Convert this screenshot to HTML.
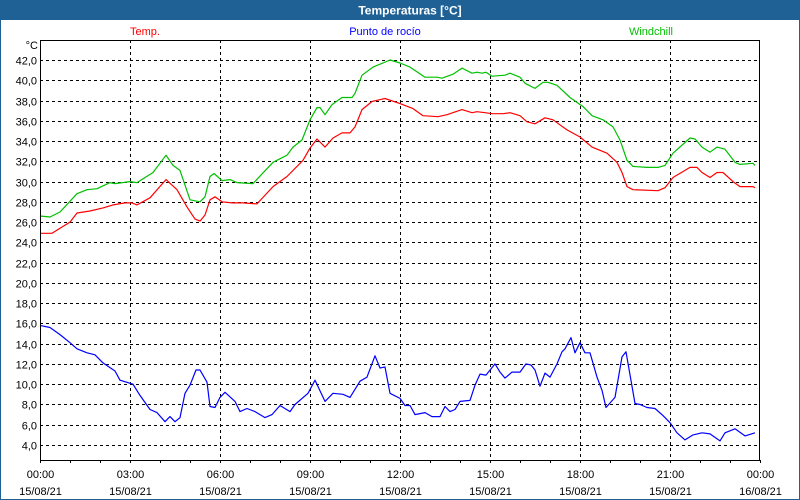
<!DOCTYPE html>
<html><head><meta charset="utf-8"><style>
body{margin:0;background:#fff;}
svg{display:block;font-family:"Liberation Sans",sans-serif;}
</style></head><body>
<svg id="chart" width="800" height="500">
<rect x="0" y="0" width="800" height="500" fill="#fff"/>
<rect x="0" y="0" width="800" height="20" fill="#1f6195"/>
<rect x="0.5" y="0.5" width="799" height="499" fill="none" stroke="#1f6195"/>
<text x="410" y="14.5" fill="#fff" font-size="12" font-weight="bold" text-anchor="middle">Temperaturas [°C]</text>
<text x="145" y="35" fill="#ff0000" font-size="11" text-anchor="middle">Temp.</text>
<text x="385" y="35" fill="#0000ff" font-size="11" text-anchor="middle">Punto de rocío</text>
<text x="651" y="35" fill="#00c000" font-size="11" text-anchor="middle">Windchill</text>
<text x="38" y="49" fill="#000" font-size="11" text-anchor="end">°C</text>
<g id="grid"></g><g id="series"></g><g id="axes"></g>
</svg>
<script>
const yTicks=[4,6,8,10,12,14,16,18,20,22,24,26,28,30,32,34,36,38,40,42];
const xTickLabels=["00:00","03:00","06:00","09:00","12:00","15:00","18:00","21:00","00:00"];
const xDateLabels=["15/08/21","15/08/21","15/08/21","15/08/21","15/08/21","15/08/21","15/08/21","15/08/21","16/08/21"];
const tempTimes=[0,24,40,60,74,100,126,146,170,184,194,220,252,274,294,310,320,330,340,350,364,384,396,406,434,466,494,526,540,554,570,586,604,620,630,644,664,690,720,746,766,796,814,844,864,874,890,904,926,940,960,974,990,1010,1026,1054,1080,1104,1134,1154,1164,1174,1186,1236,1250,1266,1300,1314,1324,1340,1354,1366,1386,1400,1426,1430];
const tempValues=[24.9,24.9,25.4,26.0,26.9,27.1,27.4,27.7,27.9,27.9,27.7,28.4,30.2,29.2,27.5,26.3,26.1,26.7,28.2,28.5,28.0,27.9,27.9,27.9,27.8,29.5,30.5,32.1,33.3,34.2,33.4,34.3,34.8,34.8,35.4,37.1,37.9,38.2,37.7,37.2,36.5,36.4,36.6,37.1,36.8,36.9,36.8,36.7,36.7,36.8,36.5,35.9,35.7,36.3,36.1,35.1,34.4,33.4,32.8,31.9,30.9,29.5,29.2,29.1,29.4,30.4,31.4,31.4,30.9,30.4,30.9,30.9,30.0,29.5,29.5,29.4];
const chillTimes=[0,20,40,74,94,114,140,150,180,194,226,252,266,280,300,320,330,340,348,364,380,394,426,466,494,506,524,540,554,560,570,584,604,624,630,644,666,686,700,720,740,770,794,804,826,844,864,874,884,892,904,930,940,960,970,990,1006,1016,1034,1060,1086,1104,1126,1146,1160,1174,1186,1214,1236,1250,1266,1300,1310,1324,1340,1354,1370,1390,1400,1426,1430];
const chillValues=[26.6,26.5,27.0,28.8,29.2,29.3,29.9,29.8,30.0,29.9,30.9,32.6,31.6,31.1,28.2,28.0,28.5,30.5,30.8,30.1,30.2,29.9,29.8,31.9,32.6,33.4,34.1,36.1,37.3,37.3,36.6,37.6,38.3,38.3,38.7,40.5,41.3,41.7,42.0,41.7,41.3,40.3,40.3,40.2,40.6,41.2,40.7,40.8,40.7,40.8,40.4,40.5,40.7,40.3,39.7,39.2,39.8,39.8,39.5,38.3,37.4,36.5,36.1,35.4,34.1,32.1,31.5,31.4,31.4,31.6,32.8,34.3,34.2,33.4,32.9,33.4,33.2,31.9,31.7,31.8,31.6];
const dewTimes=[0,20,40,60,74,94,110,126,150,160,186,200,220,234,250,260,270,280,290,300,312,320,334,340,350,360,370,390,400,414,430,450,464,480,500,510,536,550,570,586,606,620,640,654,670,680,690,700,720,730,740,750,770,784,800,810,820,830,840,860,870,880,892,910,920,930,944,960,972,982,990,1000,1010,1020,1034,1044,1050,1062,1070,1080,1090,1100,1114,1124,1132,1150,1164,1172,1190,1200,1214,1230,1246,1260,1274,1290,1306,1324,1340,1360,1370,1390,1410,1430];
const dewValues=[15.8,15.6,14.9,14.1,13.5,13.1,12.9,12.1,11.3,10.4,10.0,8.9,7.5,7.2,6.3,6.8,6.3,6.7,9.1,9.9,11.4,11.4,10.2,7.8,7.7,8.7,9.2,8.3,7.3,7.6,7.3,6.7,7.0,7.9,7.3,8.0,9.1,10.4,8.3,9.1,9.0,8.7,10.3,10.7,12.8,11.6,11.7,9.1,8.6,7.9,7.9,7.0,7.2,6.8,6.8,7.8,7.3,7.5,8.3,8.4,9.9,11.0,10.9,12.0,11.2,10.6,11.2,11.2,12.0,11.9,11.4,9.8,11.1,10.7,12.0,13.2,13.5,14.6,13.1,14.1,13.1,13.1,10.7,9.4,7.7,8.7,12.7,13.2,8.1,8.0,7.7,7.6,6.9,6.2,5.2,4.5,5.0,5.2,5.1,4.4,5.2,5.6,4.9,5.2];

const L=40,R=760,T=40,B=460;
function xs(min){return L+(min/1440)*(R-L);}
function ys(v){return 445-(v-4)*(385/38);}
const NS="http://www.w3.org/2000/svg";
function mk(tag,attrs,parent){const e=document.createElementNS(NS,tag);for(const k in attrs)e.setAttribute(k,attrs[k]);parent.appendChild(e);return e;}
const grid=document.getElementById('grid'),axes=document.getElementById('axes'),series=document.getElementById('series');
yTicks.forEach(v=>{
  const y=Math.round(ys(v))+0.5;
  const g=mk('line',{x1:L,x2:R,y1:y,y2:y,stroke:'#000','stroke-dasharray':'3,3'},grid);
  
  
  const t=mk('text',{x:37,y:y+4,'font-size':11,'text-anchor':'end',fill:'#000'},axes);
  t.textContent=v.toFixed(1).replace('.',',');
  
  
});
xTickLabels.forEach((lab,i)=>{
  const x=Math.round(xs(i*180))+0.5;
  if(i>0&&i<xTickLabels.length-1){
    const g=mk('line',{x1:x,x2:x,y1:T,y2:B,stroke:'#000','stroke-dasharray':'3,3'},grid);
    
    
  }
  const t=mk('text',{x:x,y:478,'font-size':11,'text-anchor':'middle',fill:'#000'},axes);
  t.textContent=lab;
  
  
  const d=mk('text',{x:x,y:495,'font-size':11,'text-anchor':'middle',fill:'#000'},axes);
  d.textContent=xDateLabels[i];
  
  
});
for(let h=0;h<=24;h++){
  const x=Math.round(xs(h*60))+0.5;
  const tk=mk('line',{x1:x,x2:x,y1:B,y2:B+3,stroke:'#000'},axes);
  
  
}
const frame=mk('rect',{x:L+0.5,y:T+0.5,width:R-L-1,height:B-T,fill:'none',stroke:'#000'},axes);


function line(times,vals,color,name){
  const pts=times.map((t,i)=>xs(t).toFixed(1)+','+ys(vals[i]).toFixed(1)).join(' ');
  const p=mk('polyline',{points:pts,fill:'none',stroke:color,'stroke-width':1.2,'stroke-linejoin':'round'},series);
  
  
}
line(chillTimes,chillValues,'#00c000','windchill-line');
line(tempTimes,tempValues,'#ff0000','temp-line');
line(dewTimes,dewValues,'#0000ff','dewpoint-line');
</script>
</body></html>
